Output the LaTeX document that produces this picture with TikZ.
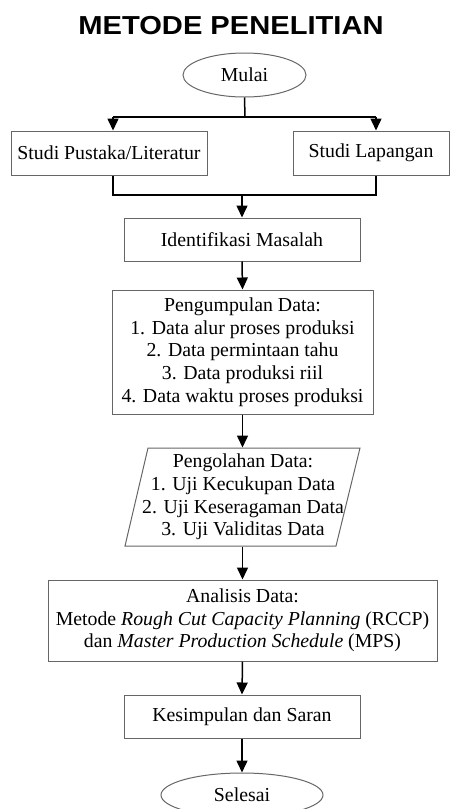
\documentclass[tikz,border=0pt]{standalone}
\usepackage{fontspec}
\usepackage{graphicx}
\setmainfont{Liberation Serif}
\newfontfamily\titlefont{Liberation Sans}
\usetikzlibrary{shapes.geometric,arrows.meta}
\begin{document}
\begin{tikzpicture}[x=1pt,y=-1pt,
  boxstyle/.style={draw=black!60, line width=1pt, inner sep=0pt, align=center,
    font=\fontsize{19.8}{22.7}\selectfont},
  ovalstyle/.style={boxstyle, ellipse},
  conn/.style={draw=black, line width=1.5pt, -{Triangle[length=12pt,width=11pt]}},
  plainline/.style={draw=black, line width=1.5pt},
  titlestyle/.style={font=\titlefont\bfseries\fontsize{26}{30}\selectfont, inner sep=0pt}]
\useasboundingbox (0,0) rectangle (456,809);
\clip (0,0) rectangle (456,809);

\node[titlestyle] (title) at (231,26) {\scalebox{1.12}[1]{METODE PENELITIAN}};

\node[ovalstyle, minimum width=123pt, minimum height=44pt] (mulai) at (244.5,75) {Mulai};
\node[boxstyle, minimum width=196pt, minimum height=44pt] (sp) at (109,153) {Studi Pustaka/Literatur};
\node[boxstyle, minimum width=156pt, minimum height=44pt] (sl) at (371,153) {Studi Lapangan};
\node[boxstyle, minimum width=236pt, minimum height=43pt] (idm) at (242,239.5) {Identifikasi Masalah};
\node[boxstyle, minimum width=261pt, minimum height=124pt] (peng) at (242.5,352)
  {Pengumpulan Data:\\1. Data alur proses produksi\\2. Data permintaan tahu\\3. Data produksi riil\\4. Data waktu proses produksi};

\node[boxstyle, draw=none, minimum width=212pt, minimum height=98pt] (olah) at (243,497)
  {Pengolahan Data:\\1. Uji Kecukupan Data\\2. Uji Keseragaman Data\\3. Uji Validitas Data};
\draw[draw=black!60, line width=1pt] (148,448) -- (360,448) -- (336,546) -- (125,546) -- cycle;

\node[boxstyle, minimum width=389pt, minimum height=81pt] (ana) at (242.5,620.5)
  {Analisis Data:\\Metode \textit{Rough Cut Capacity Planning} (RCCP)\\dan \textit{Master Production Schedule} (MPS)};
\node[boxstyle, minimum width=236pt, minimum height=43pt] (kes) at (242,716.5) {Kesimpulan dan Saran};
\node[ovalstyle, minimum width=162pt, minimum height=44pt] (sel) at (242,795) {Selesai};

\coordinate (j1) at (245,117);
\coordinate (j1l) at (113,117);
\coordinate (j1r) at (376,117);
\coordinate (j2) at (242,195);
\coordinate (j2l) at (113,195);
\coordinate (j2r) at (376,195);

\draw[plainline] (mulai.south) -- (j1);
\draw[plainline] (j1l) -- (j1r);
\draw[conn] (j1l) -- (j1l |- sp.north);
\draw[conn] (j1r) -- (j1r |- sl.north);
\draw[plainline] (j2l |- sp.south) -- (j2l) -- (j2r) -- (j2r |- sl.south);
\draw[conn] (j2) -- (idm.north);
\draw[conn] (idm.south) -- (peng.north);
\draw[conn] (peng.south) -- (peng.south |- olah.north);
\draw[conn] (peng.south |- olah.south) -- (ana.north);
\draw[conn] (ana.south) -- (kes.north);
\draw[conn] (kes.south) -- (sel.north);
\end{tikzpicture}
\end{document}
